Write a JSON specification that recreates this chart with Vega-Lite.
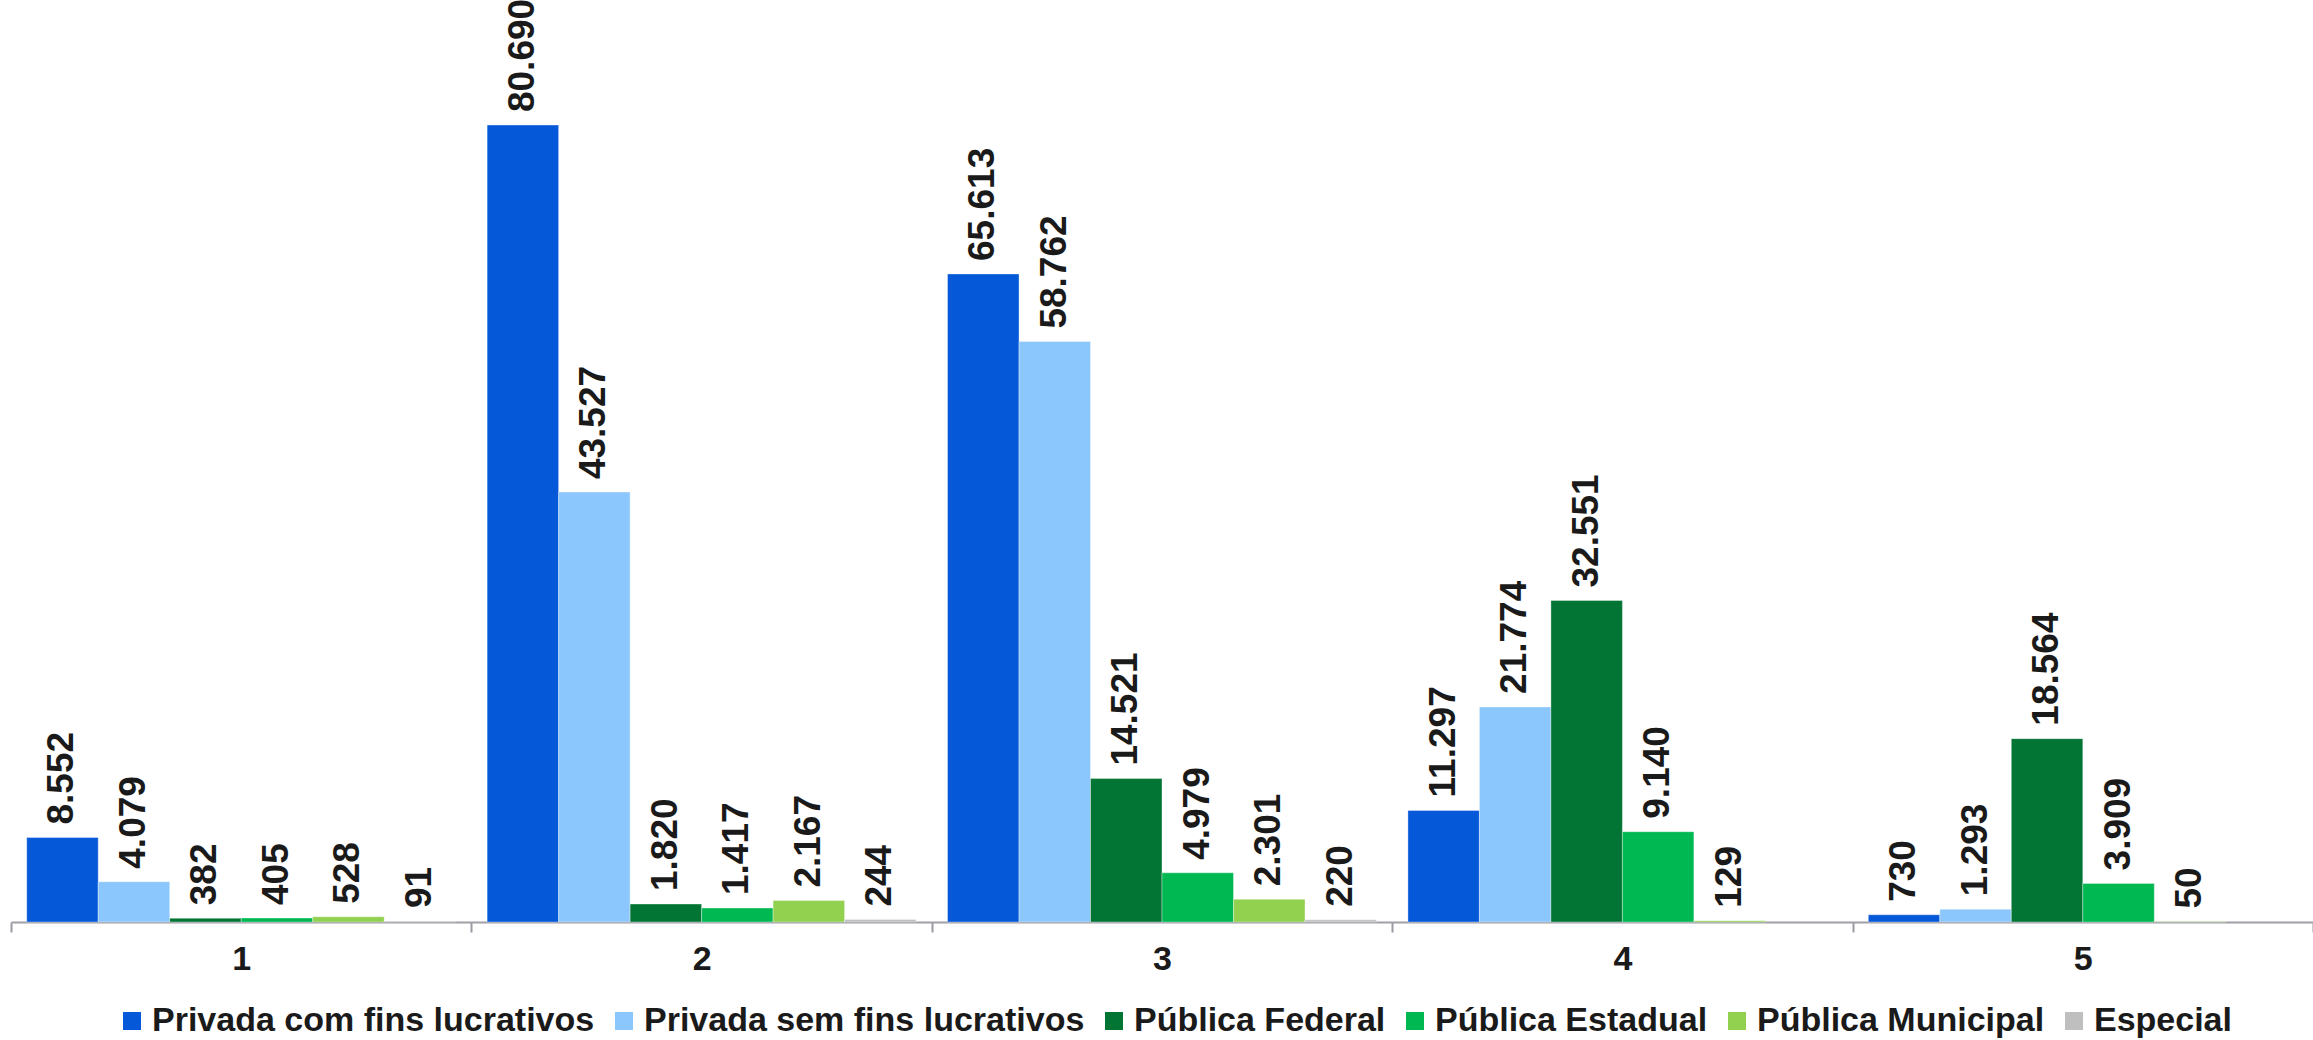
{
  "$schema": "https://vega.github.io/schema/vega-lite/v6.json",
  "width": 2302,
  "height": 922,
  "autosize": {"type": "none"},
  "padding": {"left": 11, "top": 0, "right": 0, "bottom": 118},
  "background": "#ffffff",
  "config": {
    "view": {"stroke": null},
    "font": "Liberation Sans",
    "locale": {"number": {"decimal": ",", "thousands": ".", "grouping": [3], "currency": ["R$", ""]}}
  },
  "data": {
    "values": [
      {"grupo": "1", "tipo": "Privada com fins lucrativos", "valor": 8552},
      {"grupo": "1", "tipo": "Privada sem fins lucrativos", "valor": 4079},
      {"grupo": "1", "tipo": "Pública Federal", "valor": 382},
      {"grupo": "1", "tipo": "Pública Estadual", "valor": 405},
      {"grupo": "1", "tipo": "Pública Municipal", "valor": 528},
      {"grupo": "1", "tipo": "Especial", "valor": 91},
      {"grupo": "2", "tipo": "Privada com fins lucrativos", "valor": 80690},
      {"grupo": "2", "tipo": "Privada sem fins lucrativos", "valor": 43527},
      {"grupo": "2", "tipo": "Pública Federal", "valor": 1820},
      {"grupo": "2", "tipo": "Pública Estadual", "valor": 1417},
      {"grupo": "2", "tipo": "Pública Municipal", "valor": 2167},
      {"grupo": "2", "tipo": "Especial", "valor": 244},
      {"grupo": "3", "tipo": "Privada com fins lucrativos", "valor": 65613},
      {"grupo": "3", "tipo": "Privada sem fins lucrativos", "valor": 58762},
      {"grupo": "3", "tipo": "Pública Federal", "valor": 14521},
      {"grupo": "3", "tipo": "Pública Estadual", "valor": 4979},
      {"grupo": "3", "tipo": "Pública Municipal", "valor": 2301},
      {"grupo": "3", "tipo": "Especial", "valor": 220},
      {"grupo": "4", "tipo": "Privada com fins lucrativos", "valor": 11297},
      {"grupo": "4", "tipo": "Privada sem fins lucrativos", "valor": 21774},
      {"grupo": "4", "tipo": "Pública Federal", "valor": 32551},
      {"grupo": "4", "tipo": "Pública Estadual", "valor": 9140},
      {"grupo": "4", "tipo": "Pública Municipal", "valor": 129},
      {"grupo": "5", "tipo": "Privada com fins lucrativos", "valor": 730},
      {"grupo": "5", "tipo": "Privada sem fins lucrativos", "valor": 1293},
      {"grupo": "5", "tipo": "Pública Federal", "valor": 18564},
      {"grupo": "5", "tipo": "Pública Estadual", "valor": 3909},
      {"grupo": "5", "tipo": "Pública Municipal", "valor": 50}
    ]
  },
  "encoding": {
    "x": {
      "field": "grupo",
      "type": "nominal",
      "sort": ["1", "2", "3", "4", "5"],
      "scale": {"paddingInner": 0, "paddingOuter": 0},
      "axis": {
        "title": null,
        "labelAngle": 0,
        "labelFontSize": 34,
        "labelFontWeight": "bold",
        "labelColor": "#1a1a1a",
        "labelPadding": 10,
        "tickBand": "extent",
        "tickSize": 10,
        "tickColor": "#9a9aa2",
        "domainColor": "#a0a0a8",
        "domainWidth": 2,
        "tickWidth": 2
      }
    },
    "xOffset": {
      "field": "tipo",
      "type": "nominal",
      "sort": ["Privada com fins lucrativos", "Privada sem fins lucrativos", "Pública Federal", "Pública Estadual", "Pública Municipal", "Especial"],
      "scale": {"paddingInner": 0, "paddingOuter": 0.22}
    },
    "y": {
      "field": "valor",
      "type": "quantitative",
      "scale": {"domain": [0, 93350], "nice": false, "zero": true},
      "axis": null
    }
  },
  "layer": [
    {
      "mark": {"type": "bar", "stroke": "#ffffff", "strokeOpacity": 0.35, "strokeWidth": 1},
      "encoding": {
        "color": {
          "field": "tipo",
          "type": "nominal",
          "sort": ["Privada com fins lucrativos", "Privada sem fins lucrativos", "Pública Federal", "Pública Estadual", "Pública Municipal", "Especial"],
          "scale": {
            "domain": ["Privada com fins lucrativos", "Privada sem fins lucrativos", "Pública Federal", "Pública Estadual", "Pública Municipal", "Especial"],
            "range": ["#0559D8", "#8BC7FC", "#027534", "#00B852", "#92D050", "#BFBFBF"]
          },
          "legend": {
            "title": null,
            "orient": "none",
            "direction": "horizontal",
            "legendX": 104,
            "legendY": 1004,
            "symbolType": "square",
            "symbolSize": 324,
            "symbolStrokeWidth": 0,
            "labelFontSize": 34,
            "labelFontWeight": "bold",
            "labelColor": "#1a1a1a",
            "labelOffset": 3,
            "columnPadding": 12,
            "labelLimit": 1000
          }
        }
      }
    },
    {
      "mark": {
        "type": "text",
        "angle": 270,
        "align": "left",
        "baseline": "middle",
        "dx": 13,
        "fontSize": 37,
        "fontWeight": "bold",
        "color": "#1a1a1a"
      },
      "encoding": {
        "text": {"field": "valor", "type": "quantitative", "format": ",d"}
      }
    }
  ]
}
